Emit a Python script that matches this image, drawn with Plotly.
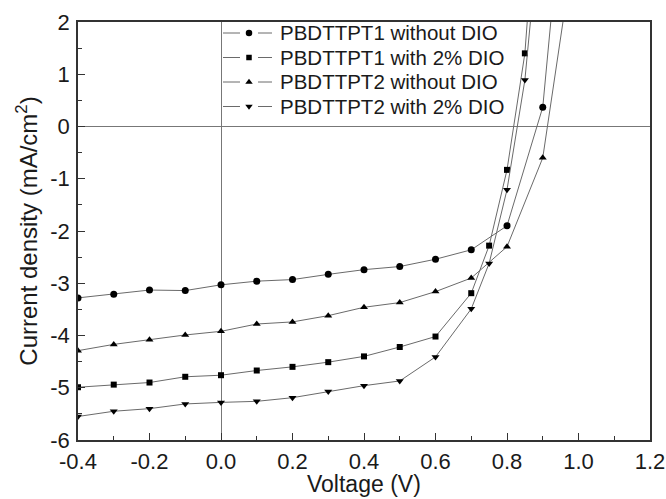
import plotly.graph_objects as go

# J-V curves of PBDTTPT polymer solar cells (current density vs. applied voltage)
v_t1_nodio = [-0.4, -0.3, -0.2, -0.1, 0.0, 0.1, 0.2, 0.3, 0.4, 0.5, 0.6, 0.7, 0.8, 0.9, 0.95]
j_t1_nodio = [-3.28, -3.21, -3.13, -3.14, -3.03, -2.96, -2.93, -2.83, -2.74, -2.68, -2.54, -2.36, -1.90, 0.37, 4.0]

v_t1_dio = [-0.4, -0.3, -0.2, -0.1, 0.0, 0.1, 0.2, 0.3, 0.4, 0.5, 0.6, 0.7, 0.75, 0.8, 0.85, 0.9]
j_t1_dio = [-4.99, -4.94, -4.90, -4.79, -4.76, -4.67, -4.60, -4.51, -4.40, -4.22, -4.02, -3.19, -2.28, -0.83, 1.40, 6.0]

v_t2_nodio = [-0.4, -0.3, -0.2, -0.1, 0.0, 0.1, 0.2, 0.3, 0.4, 0.5, 0.6, 0.7, 0.8, 0.9, 1.0]
j_t2_nodio = [-4.29, -4.17, -4.08, -3.99, -3.92, -3.78, -3.74, -3.62, -3.46, -3.37, -3.16, -2.90, -2.30, -0.60, 4.0]

v_t2_dio = [-0.4, -0.3, -0.2, -0.1, 0.0, 0.1, 0.2, 0.3, 0.4, 0.5, 0.6, 0.7, 0.75, 0.8, 0.85, 0.9]
j_t2_dio = [-5.55, -5.45, -5.40, -5.31, -5.28, -5.26, -5.19, -5.07, -4.96, -4.87, -4.41, -3.49, -2.62, -1.21, 0.89, 4.5]

series_names = ["PBDTTPT1 without DIO", "PBDTTPT1 with 2% DIO",
                "PBDTTPT2 without DIO", "PBDTTPT2 with 2% DIO"]
series_v = [v_t1_nodio, v_t1_dio, v_t2_nodio, v_t2_dio]
series_j = [j_t1_nodio, j_t1_dio, j_t2_nodio, j_t2_dio]
symbols = ["circle", "square", "triangle-up", "triangle-down"]
marker_sizes = [7, 6, 7, 7]

# axis ticks (labels use a plain hyphen for negatives)
x_tickvals = [-0.4, -0.2, 0.0, 0.2, 0.4, 0.6, 0.8, 1.0, 1.2]
x_ticktext = ["-0.4", "-0.2", "0.0", "0.2", "0.4", "0.6", "0.8", "1.0", "1.2"]
y_tickvals = [-6, -5, -4, -3, -2, -1, 0, 1, 2]
y_ticktext = ["-6", "-5", "-4", "-3", "-2", "-1", "0", "1", "2"]

FONT = "Liberation Sans, Arial, sans-serif"
TEXT = "#1a1a1a"
LINE = "#6a6a6a"
AXIS = "#333333"

# figure geometry (pixels)
W, H = 666, 499
ML, MR, MT, MB = 78, 16, 22, 59
PW, PH = W - ML - MR, H - MT - MB


def px_to_paper_x(px):
    return (px - ML) / PW


def px_to_paper_y(py):
    return (H - MB - py) / PH


fig = go.Figure()
for name, v, j, sym, size in zip(series_names, series_v, series_j, symbols, marker_sizes):
    fig.add_trace(go.Scatter(
        x=v, y=j, name=name, mode="lines+markers",
        line=dict(color=LINE, width=1),
        marker=dict(symbol=sym, size=size, color="black", line=dict(width=0)),
        cliponaxis=True, showlegend=False,
    ))

# legend: "— • —" sample drawn on an overlay axis in paper units, text as annotations
legend_rows_px = [33, 57.5, 82, 106.5]
seg1 = (223, 240)
seg2 = (258, 272)
mark_x = 249
text_x = 278

shapes = []
annotations = []
for name, sym, size, row in zip(series_names, symbols, marker_sizes, legend_rows_px):
    yy = px_to_paper_y(row)
    for a, b in (seg1, seg2):
        shapes.append(dict(type="line", xref="paper", yref="paper",
                           x0=px_to_paper_x(a), x1=px_to_paper_x(b), y0=yy, y1=yy,
                           line=dict(color=LINE, width=1)))
    fig.add_trace(go.Scatter(
        x=[px_to_paper_x(mark_x)], y=[yy], mode="markers", xaxis="x2", yaxis="y2",
        marker=dict(symbol=sym, size=size - 0.5, color="black", line=dict(width=0)),
        showlegend=False, hoverinfo="skip", cliponaxis=False,
    ))
    annotations.append(dict(x=px_to_paper_x(text_x), y=yy, xref="paper", yref="paper",
                            text=name, showarrow=False, xanchor="left", yanchor="middle",
                            font=dict(family=FONT, size=20.5, color=TEXT)))

# x-axis title placed below the tick labels
annotations.append(dict(x=0.5, y=px_to_paper_y(499), xref="paper", yref="paper",
                        text="Voltage (V)", showarrow=False, xanchor="center", yanchor="bottom",
                        borderpad=0, yshift=1,
                        font=dict(family=FONT, size=23, color=TEXT)))

axis_common = dict(
    showline=True, linecolor=AXIS, linewidth=1.6, mirror=True,
    ticks="inside", ticklen=7, tickwidth=1.4, tickcolor=AXIS,
    showgrid=False, automargin=False,
    zeroline=True, zerolinecolor="#777777", zerolinewidth=1,
    tickfont=dict(family=FONT, size=22, color=TEXT),
)

fig.update_xaxes(
    range=[-0.4, 1.2], tickmode="array", tickvals=x_tickvals, ticktext=x_ticktext,
    minor=dict(ticks="inside", dtick=0.1, tick0=-0.4, ticklen=4, tickwidth=1.2, tickcolor=AXIS),
    ticklabelstandoff=1,
    **axis_common,
)
fig.update_yaxes(
    range=[-6, 2], tickmode="array", tickvals=y_tickvals, ticktext=y_ticktext,
    minor=dict(ticks="inside", dtick=0.5, tick0=-6, ticklen=4, tickwidth=1.2, tickcolor=AXIS),
    ticklabelstandoff=2,
    title=dict(text="Current density (mA/cm<sup>2</sup>)", font=dict(family=FONT, size=24, color=TEXT), standoff=6),
    **axis_common,
)

fig.update_layout(
    width=W, height=H,
    margin=dict(l=ML, r=MR, t=MT, b=MB),
    paper_bgcolor="white", plot_bgcolor="white",
    xaxis2=dict(overlaying="x", range=[0, 1], visible=False, fixedrange=True),
    yaxis2=dict(overlaying="y", range=[0, 1], visible=False, fixedrange=True),
    shapes=shapes,
    annotations=annotations,
    showlegend=False,
)

fig.write_html("out.html")
